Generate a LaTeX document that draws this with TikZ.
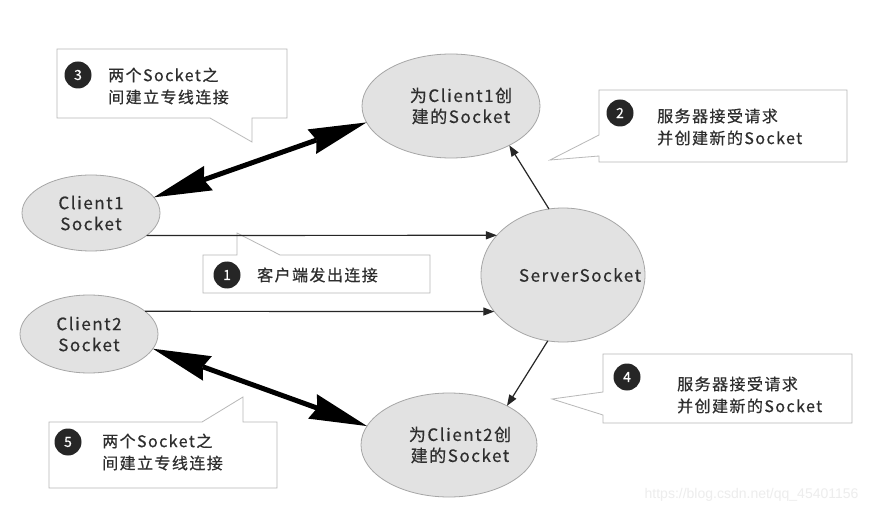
\documentclass[tikz,border=0pt]{standalone}
\usepackage{fontspec}
\setmainfont{Noto Sans CJK SC}[LetterSpace=9,FakeBold=0.5]
\newfontfamily\urlfont{Liberation Sans}
\usepackage{tikz}
\usetikzlibrary{arrows.meta,shapes.geometric}
\definecolor{sockfill}{HTML}{E2E2E2}
\definecolor{sockline}{HTML}{A6A6A6}
\definecolor{boxline}{HTML}{B8B8B8}
\definecolor{txt}{HTML}{2E2E2E}

\tikzset{
 sock/.style={ellipse, draw=sockline, fill=sockfill, line width=0.8pt, inner sep=0pt, outer sep=0pt},
 socktext/.style={align=center, text=txt, inner sep=0pt, font=\fontsize{17}{21}\selectfont},
 conn/.style={draw=black!85, line width=1.2pt, -{Triangle[length=11pt,width=8pt]}},
 link/.style={draw=black, line width=5pt, {Stealth[length=58pt,width=26pt,inset=5pt,line width=0pt]}-{Stealth[length=58pt,width=26pt,inset=5pt,line width=0pt]}},
 tipbox/.style={draw=boxline, fill=white, line width=0.8pt},
 num/.style={circle, fill=black!85, text=white, inner sep=0pt, minimum size=27pt, font=\fontsize{14}{14}\selectfont},
 note/.style={anchor=west, align=left, text=txt, inner sep=0pt, font=\fontsize{16}{22}\selectfont},
}

\begin{document}
\begin{tikzpicture}[x=1pt,y=-1pt]
\useasboundingbox[fill=white] (0,0) rectangle (873,513);

\filldraw[tipbox] (57,49) -- (287,49) -- (287,118) -- (252,118) -- (252,142) -- (210,118) -- (57,118) -- cycle;
\filldraw[tipbox] (599,90) -- (847,90) -- (847,162) -- (599,162) -- (599,156) -- (550,160) -- (599,135) -- cycle;
\filldraw[tipbox] (203,255) -- (237,255) -- (237,233) -- (280,255) -- (430,255) -- (430,293) -- (203,293) -- cycle;
\filldraw[tipbox] (603,354) -- (852,354) -- (852,423) -- (603,423) -- (603,415) -- (552,399) -- (603,392) -- cycle;
\filldraw[tipbox] (49,422) -- (202,422) -- (243,397) -- (243,422) -- (277,422) -- (277,488) -- (49,488) -- cycle;

\node (n3) at (78,75)   [num] {3};
\node (t3) at (108,86)  [note] {两个Socket之\\间建立专线连接};
\node (n2) at (620,113) [num] {2};
\node (t2) at (657,127) [note] {服务器接受请求\\并创建新的Socket};
\node (n1) at (227,275) [num] {1};
\node (t1) at (257,275) [note] {客户端发出连接};
\node (n4) at (627,377) [num] {4};
\node (t4) at (677,395) [note] {服务器接受请求\\并创建新的Socket};
\node (n5) at (68,442)  [num] {5};
\node (t5) at (102,452) [note] {两个Socket之\\间建立专线连接};

\node (c1)  at (91,213)  [sock, minimum width=138pt, minimum height=76pt] {};
\node (c2)  at (89,334)  [sock, minimum width=138pt, minimum height=78pt] {};
\node (s1)  at (451,106) [sock, minimum width=178pt, minimum height=104pt] {};
\node (srv) at (563,275) [sock, minimum width=164pt, minimum height=134pt] {};
\node (s2)  at (449,445) [sock, minimum width=176pt, minimum height=104pt] {};

\node (c1t)  at (c1)  [socktext] {Client1\\Socket};
\node (c2t)  at (c2)  [socktext] {Client2\\Socket};
\node (s1t)  at ([xshift=10pt]s1.center)  [socktext] {为Client1创\\建的Socket};
\node (srvt) at ([xshift=17pt]srv.center) [socktext] {ServerSocket};
\node (s2t)  at ([xshift=11pt]s2.center)  [socktext] {为Client2创\\建的Socket};

\draw[conn] (c1.-22) -- (srv.149);
\draw[conn] (c2.22) -- (srv.208);
\draw[conn] (srv.102) -- (s1.-34);
\draw[conn] (srv.-103) -- (s2.34);
\draw[link] (c1.14) -- (s1.191);
\draw[link] (c2.-13) -- (s2.167);

\node (wm) at (862,495) [anchor=east, text=black!7, font=\urlfont\fontsize{14}{14}\selectfont] {https://blog.csdn.net/qq\_45401156};
\end{tikzpicture}
\end{document}
